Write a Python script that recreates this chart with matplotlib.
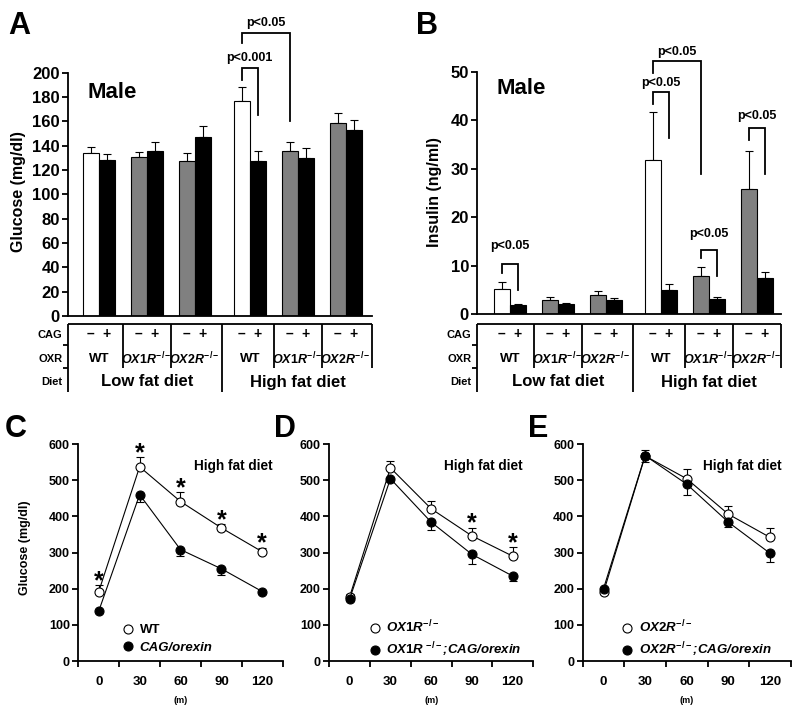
import numpy as np
import matplotlib
matplotlib.use('Agg')
import matplotlib.pyplot as plt
from matplotlib.lines import Line2D

plt.rcParams['font.family'] = ['Liberation Sans', 'DejaVu Sans']
plt.rcParams['font.weight'] = 'bold'
plt.rcParams['mathtext.fontset'] = 'custom'
plt.rcParams['mathtext.rm'] = 'Liberation Sans:bold'
plt.rcParams['mathtext.it'] = 'Liberation Sans:italic:bold'
plt.rcParams['mathtext.bf'] = 'Liberation Sans:bold'
plt.rcParams['mathtext.sf'] = 'Liberation Sans:bold'

# ---------------- data ----------------
oxr_groups = ['WT', 'OX1R', 'OX2R', 'WT', 'OX1R', 'OX2R']
oxr_labels = ['WT', r'$\mathit{OX1R}^{\mathit{-/-}}$', r'$\mathit{OX2R}^{\mathit{-/-}}$',
              'WT', r'$\mathit{OX1R}^{\mathit{-/-}}$', r'$\mathit{OX2R}^{\mathit{-/-}}$']
diet_labels = ['Low fat diet', 'High fat diet']
row_labels = ['CAG', 'OXR', 'Diet']
cag_labels = ['–', '+']

glucose_minus = [134, 131, 127, 177, 136, 159]
glucose_minus_err = [5, 4, 7, 11, 7, 8]
glucose_plus = [128, 136, 147, 127, 130, 153]
glucose_plus_err = [5, 7, 9, 9, 8, 8]

insulin_minus = [5.1, 2.9, 4.0, 31.9, 7.8, 25.8]
insulin_minus_err = [1.5, 0.6, 0.8, 9.9, 2.0, 7.9]
insulin_plus = [1.8, 2.0, 2.8, 5.0, 3.2, 7.4]
insulin_plus_err = [0.2, 0.3, 0.5, 1.2, 0.3, 1.3]

# brackets: (label, left bar, right bar, left leg bottom, top, right leg bottom, text y)
brackets_A = [('p<0.001', 6, 7, 194, 203.6, 165, 212),
              ('p<0.05', 6, 8, 224.4, 232.3, 160.5, 241)]
brackets_B = [('p<0.05', 0, 1, 8.5, 10.3, 4.9, 14.0),
              ('p<0.05', 6, 7, 43.3, 45.8, 36.3, 47.8),
              ('p<0.05', 6, 8, 49.7, 52.3, 28.9, 54.2),
              ('p<0.05', 8, 9, 11.5, 13.2, 7.9, 16.5),
              ('p<0.05', 10, 11, 36.0, 38.5, 28.9, 41.0)]

time_labels = ['0', '30', '60', '90', '120']
C_wt = [192, 537, 441, 368, 302]
C_wt_err = [17, 26, 25, 10, 11]
C_cag = [138, 460, 308, 255, 192]
C_cag_err = [6, 19, 19, 16, 8]
C_star = [1, 1, 1, 1, 1]

D_ko = [178, 534, 421, 346, 290]
D_ko_err = [8, 18, 21, 23, 25]
D_cag = [172, 504, 384, 295, 235]
D_cag_err = [5, 8, 21, 26, 13]
D_star = [0, 0, 0, 1, 1]

E_ko = [190, 567, 504, 406, 342]
E_ko_err = [4, 16, 27, 22, 25]
E_cag = [200, 568, 489, 384, 298]
E_cag_err = [5, 17, 30, 14, 24]
E_star = [0, 0, 0, 0, 0]

# ---------------- figure ----------------
W, H = 800, 715
fig = plt.figure(figsize=(8, 7.15), dpi=100)


def px_axes(l, t, r, b):
    return fig.add_axes([l / W, 1 - b / H, (r - l) / W, (b - t) / H])


LW = 1.3
group_pos = np.r_[np.arange(3), np.arange(3) + 3.15]
bw = 0.335


def bar_x(k):
    return group_pos[k // 2] + (k % 2 - 0.5) * bw


def bar_panel(ax, tax, minus, minus_err, plus, plus_err, ymax, ystep, brackets, xlim):
    pos = group_pos
    left_colors = ['white' if g == 'WT' else '#808080' for g in oxr_groups]
    ax.errorbar(pos - bw / 2, minus, yerr=[np.zeros(6), minus_err], fmt='none',
                ecolor='black', elinewidth=0.8, capsize=3, capthick=0.8, zorder=1)
    ax.errorbar(pos + bw / 2, plus, yerr=[np.zeros(6), plus_err], fmt='none',
                ecolor='black', elinewidth=0.8, capsize=3, capthick=0.8, zorder=1)
    ax.bar(pos - bw / 2, minus, bw, color=left_colors, edgecolor='black', linewidth=0.8, zorder=2)
    ax.bar(pos + bw / 2, plus, bw, color='black', edgecolor='black', linewidth=0.8, zorder=2)
    ax.set_xlim(xlim)
    ax.set_ylim(0, ymax)
    ax.set_yticks(np.arange(0, ymax + 0.1, ystep))
    ax.set_xticks([])
    for s in ('top', 'right'):
        ax.spines[s].set_visible(False)
    for s in ('left', 'bottom'):
        ax.spines[s].set_linewidth(LW)
    ax.tick_params(axis='y', direction='out', length=4, width=LW, labelsize=12, pad=2)
    for lab in ax.get_yticklabels():
        lab.set_fontweight('bold')
    for (txt, kl, kr, yl, yt, yr, ty) in brackets:
        xl, xr = bar_x(kl), bar_x(kr)
        ax.plot([xl, xl, xr, xr], [yl, yt, yt, yr], color='black', lw=1.3, clip_on=False,
                solid_joinstyle='miter')
        ax.text((xl + xr) / 2, ty, txt, ha='center', va='center', fontsize=9,
                fontweight='bold', clip_on=False)

    # table
    tax.set_xlim(xlim)
    tax.set_ylim(392, 324)
    tax.axis('off')
    x0, x1 = xlim
    kw = dict(color='black', lw=LW, clip_on=False, solid_capstyle='butt')
    tax.plot([x0, x1], [324, 324], **kw)
    tax.plot([x0, x0], [324, 392], **kw)
    seps = (pos[:-1] + pos[1:]) / 2
    for i, s in enumerate(seps):
        tax.plot([s, s], [324, 392 if i == 2 else 368], **kw)
    tax.plot([x1, x1], [324, 368], **kw)
    dx = 5 / 47.9
    for yy in (345, 368):
        tax.plot([x0 - dx, x0], [yy, yy], **kw)
    for lab, yy in zip(row_labels, (335, 359, 382)):
        tax.text(x0 - 6 / 47.9, yy, lab, ha='right', va='center', fontsize=8,
                 fontweight='bold', clip_on=False)
    for p in pos:
        tax.text(p - bw / 2, 334, cag_labels[0], ha='center', va='center', fontsize=10, fontweight='bold')
        tax.text(p + bw / 2, 334, cag_labels[1], ha='center', va='center', fontsize=10, fontweight='bold')
    for p, g in zip(pos, oxr_labels):
        tax.text(p, 359, g, ha='center', va='center', fontsize=9.5 if g == 'WT' else 9,
                 fontweight='bold')
    tax.text(pos[:3].mean(), 382, diet_labels[0], ha='center', va='center', fontsize=12, fontweight='bold')
    tax.text(pos[3:].mean(), 382, diet_labels[1], ha='center', va='center', fontsize=12, fontweight='bold')


# Panel A
axA = px_axes(68.3, 316 - 200 * 1.2167, 372, 316)
tA = px_axes(68.3, 324, 372, 392)
bar_panel(axA, tA, glucose_minus, glucose_minus_err, glucose_plus, glucose_plus_err,
          200, 20, brackets_A, (-0.64, 5.70))
fig.text(18.5 / W, 1 - 192 / H, 'Glucose (mg/dl)', rotation=90, ha='center', va='center',
         fontsize=11.5, fontweight='bold')
fig.text(112.5 / W, 1 - 92 / H, 'Male', ha='center', va='center', fontsize=16, fontweight='bold')

# Panel B
axB = px_axes(477.3, 72, 781, 314)
tB = px_axes(477.3, 324, 781, 392)
bar_panel(axB, tB, insulin_minus, insulin_minus_err, insulin_plus, insulin_plus_err,
          50, 10, brackets_B, (-0.68, 5.66))
fig.text(434 / W, 1 - 192 / H, 'Insulin (ng/ml)', rotation=90, ha='center', va='center',
         fontsize=11.5, fontweight='bold')
fig.text(521.5 / W, 1 - 88 / H, 'Male', ha='center', va='center', fontsize=16, fontweight='bold')


def line_panel(ax, ko, ko_err, cag, cag_err, stars, labels, italic, leg_x, title_x):
    x = np.arange(len(time_labels))
    ax.errorbar(x, ko, yerr=[np.zeros(5), ko_err], fmt='none', ecolor='black',
                elinewidth=0.8, capsize=3, capthick=0.8, zorder=2)
    ax.errorbar(x, cag, yerr=[cag_err, np.zeros(5)], fmt='none', ecolor='black',
                elinewidth=0.8, capsize=3, capthick=0.8, zorder=2)
    ax.plot(x, ko, '-o', color='black', mfc='white', mec='black', ms=6.5, mew=0.8, lw=0.8, zorder=3)
    ax.plot(x, cag, '-o', color='black', mfc='black', mec='black', ms=6.5, mew=0.8, lw=0.8, zorder=4)
    for xi, v, e, s in zip(x, ko, ko_err, stars):
        if s:
            ax.annotate('*', (xi, v + e + 32), xytext=(0, -10.5), textcoords='offset points',
                        ha='center', va='baseline', fontsize=18, fontweight='bold')
    ax.set_xlim(-0.5, len(time_labels) - 0.5)
    ax.set_ylim(0, 600)
    ax.set_yticks(np.arange(0, 601, 100))
    ax.set_xticks(np.arange(-0.5, len(time_labels)))
    ax.set_xticklabels([])
    ax.set_xticks(x, minor=True)
    ax.set_xticklabels(time_labels, minor=True)
    for s in ('top', 'right'):
        ax.spines[s].set_visible(False)
    for s in ('left', 'bottom'):
        ax.spines[s].set_linewidth(LW)
    ax.tick_params(axis='both', which='major', direction='out', length=4, width=LW, labelsize=9, pad=2)
    ax.tick_params(axis='x', which='minor', length=0, labelsize=9.5, pad=11)
    for lab in ax.get_yticklabels() + ax.get_xticklabels(minor=True):
        lab.set_fontweight('bold')
    ax.text(2, -0.18, '(m)', transform=ax.get_xaxis_transform(), ha='center', va='center',
            fontsize=6.5, fontweight='bold')
    ax.text(title_x, 0.897, 'High fat diet', transform=ax.transAxes, ha='center', va='center',
            fontsize=9.8, fontweight='bold')
    handles = [Line2D([], [], marker='o', ls='none', mfc='white', mec='black', ms=6.5, mew=0.8),
               Line2D([], [], marker='o', ls='none', mfc='black', mec='black', ms=6.5, mew=0.8)]
    leg = ax.legend(handles, labels, loc='center left', bbox_to_anchor=(leg_x, 0.101), frameon=False,
                    handlelength=0.8, handletextpad=0.5, labelspacing=0.4, borderpad=0,
                    borderaxespad=0, prop={'size': 9.5, 'weight': 'bold'})
    for t, it in zip(leg.get_texts(), italic):
        if it:
            t.set_fontstyle('italic')


axC = px_axes(78.3, 444, 282.7, 661)
line_panel(axC, C_wt, C_wt_err, C_cag, C_cag_err, C_star,
           ['WT', 'CAG/orexin'], [False, True], 0.217, 0.76)
fig.text(25 / W, 1 - 548 / H, 'Glucose (mg/dl)', rotation=90, ha='center', va='center',
         fontsize=9, fontweight='bold')

axD = px_axes(329.3, 444, 533, 661)
line_panel(axD, D_ko, D_ko_err, D_cag, D_cag_err, D_star,
           [r'$\mathit{OX1R}^{\mathit{-/-}}$', r'$\mathit{OX1R}^{\ \mathit{-/-}}$;CAG/orexin'],
           [True, True], 0.196, 0.754)

axE = px_axes(582.7, 444, 790.7, 661)
line_panel(axE, E_ko, E_ko_err, E_cag, E_cag_err, E_star,
           [r'$\mathit{OX2R}^{\mathit{-/-}}$', r'$\mathit{OX2R}^{\mathit{-/-}}$;CAG/orexin'],
           [True, True], 0.19, 0.768)

# panel letters
for lab, xp, yp in [('A', 8, 34), ('B', 416, 34), ('C', 5, 437), ('D', 274, 437), ('E', 528, 437)]:
    fig.text(xp / W, 1 - yp / H, lab, fontsize=22, fontweight='bold', va='baseline', ha='left')

fig.savefig('out.png', dpi=100)
